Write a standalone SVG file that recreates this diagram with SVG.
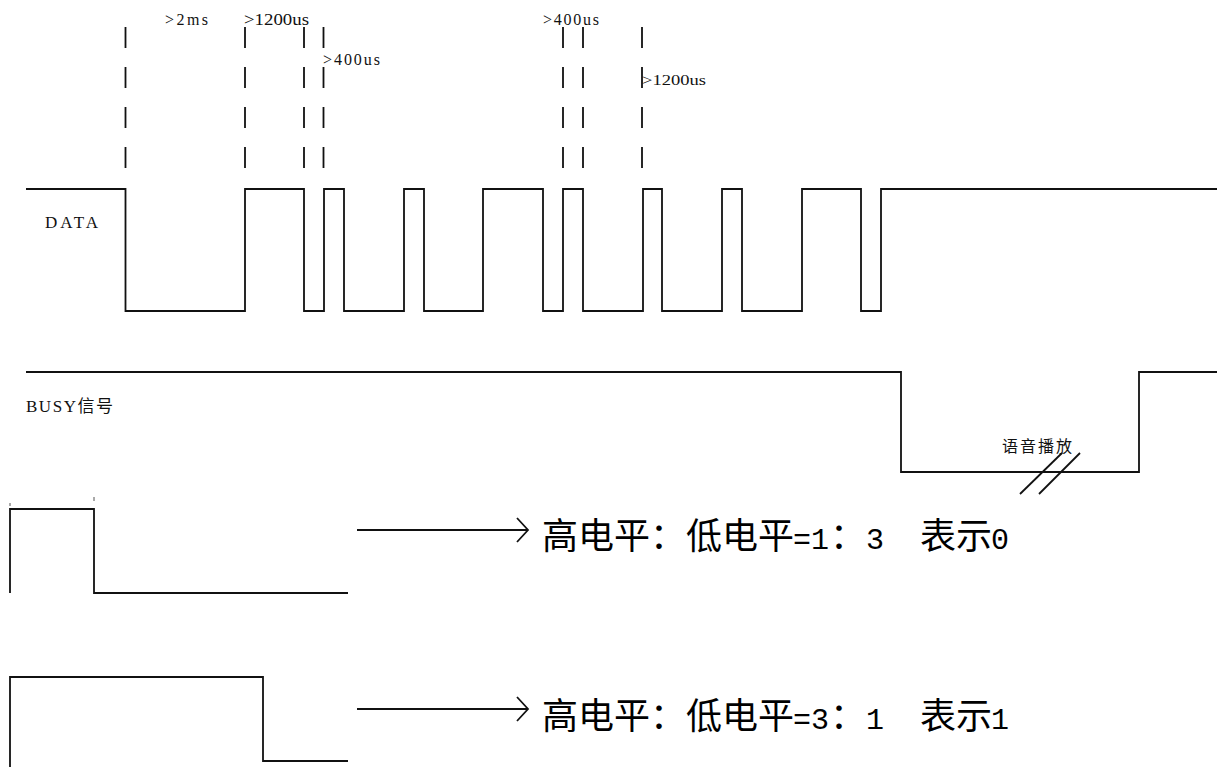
<svg xmlns="http://www.w3.org/2000/svg" width="1217" height="770" viewBox="0 0 1217 770">
  <style>
    .wave { fill: none; stroke: #111; stroke-width: 1.8; stroke-linejoin: miter; }
    .dash { stroke: #111; stroke-width: 1.8; stroke-dasharray: 21 19; }
    .lbl { font-family: "Liberation Serif", "Times New Roman", serif; fill: #111; }
    .cjk { font-family: "Liberation Serif", "Noto Sans CJK SC", serif; fill: #111; }
    .big { font-family: "Noto Sans CJK SC", sans-serif; font-size: 36px; fill: #000; }
    .mono { font-family: "Liberation Mono", "Noto Sans CJK SC", monospace; font-size: 30px; fill: #000; }
    .arrow { stroke: #111; stroke-width: 1.8; fill: none; marker-end: url(#chev); }
    .tick { stroke: #555; stroke-width: 1; }
  </style>
  <defs>
    <marker id="chev" markerUnits="userSpaceOnUse" viewBox="-13 -14 15 28" markerWidth="15" markerHeight="28" refX="0" refY="0" orient="auto">
      <path d="M-11,-12 L0,0 L-11,12" fill="none" stroke="#111" stroke-width="1.8"/>
    </marker>
  </defs>
  <rect width="1217" height="770" fill="#fff"/>

  <g id="timing-marks">
    <line class="dash" x1="125.5" y1="27" x2="125.5" y2="168"/>
    <line class="dash" x1="245" y1="27" x2="245" y2="168"/>
    <line class="dash" x1="304" y1="27" x2="304" y2="168"/>
    <line class="dash" x1="323.5" y1="27" x2="323.5" y2="168"/>
    <line class="dash" x1="563" y1="27" x2="563" y2="168"/>
    <line class="dash" x1="583" y1="27" x2="583" y2="168"/>
    <line class="dash" x1="642" y1="27" x2="642" y2="168"/>
  </g>

  <g id="timing-labels">
    <text class="lbl" x="165" y="25" font-size="16" textLength="43" lengthAdjust="spacing">&gt;2ms</text>
    <text class="lbl" x="244" y="25" font-size="16" textLength="65" lengthAdjust="spacingAndGlyphs">&gt;1200us</text>
    <text class="lbl" x="323" y="65" font-size="16" textLength="57" lengthAdjust="spacing">&gt;400us</text>
    <text class="lbl" x="543" y="25" font-size="16" textLength="56" lengthAdjust="spacing">&gt;400us</text>
    <text class="lbl" x="642" y="85" font-size="15" textLength="64" lengthAdjust="spacingAndGlyphs">&gt;1200us</text>
  </g>

  <g id="data-signal">
    <text class="lbl" x="45" y="228" font-size="17" textLength="53" lengthAdjust="spacing">DATA</text>
    <path class="wave" d="M26,189 H125.5 V311 H245 V189 H304 V311 H324 V189 H344 V311 H404 V189 H424 V311 H483 V189 H543 V311 H563 V189 H583 V311 H643 V189 H662 V311 H722 V189 H742 V311 H802 V189 H861 V311 H881 V189 H1217"/>
  </g>

  <g id="busy-signal">
    <text class="cjk" x="26" y="412" font-size="17" textLength="87" lengthAdjust="spacing">BUSY信号</text>
    <path class="wave" d="M26,372 H901 V472 H1139 V372 H1217"/>
    <text class="cjk" x="1002" y="452" font-size="16" textLength="70" lengthAdjust="spacing">语音播放</text>
    <line class="wave" x1="1020" y1="494" x2="1062" y2="453"/>
    <line class="wave" x1="1039" y1="494" x2="1080" y2="453"/>
  </g>

  <g id="legend-0">
    <line class="tick" x1="10" y1="503" x2="10" y2="506"/>
    <line class="tick" x1="94" y1="497" x2="94" y2="501"/>
    <path class="wave" d="M10,593 V509 H94 V593 H348"/>
    <text class="big" y="549"><tspan x="542">高电平：低电平</tspan><tspan class="mono" x="793">=1</tspan><tspan x="830">：</tspan><tspan class="mono" x="866">3</tspan><tspan x="920">表示</tspan><tspan class="mono" x="991">0</tspan></text>
  </g>

  <g id="legend-1">
    <path class="wave" d="M10,767 V677 H263 V761 H348"/>
    <text class="big" y="729"><tspan x="542">高电平：低电平</tspan><tspan class="mono" x="793">=3</tspan><tspan x="830">：</tspan><tspan class="mono" x="866">1</tspan><tspan x="920">表示</tspan><tspan class="mono" x="991">1</tspan></text>
  </g>

  <g id="connectors">
    <line class="arrow" x1="357" y1="530" x2="528" y2="530"/>
    <line class="arrow" x1="357" y1="709" x2="528" y2="709"/>
  </g>
</svg>
